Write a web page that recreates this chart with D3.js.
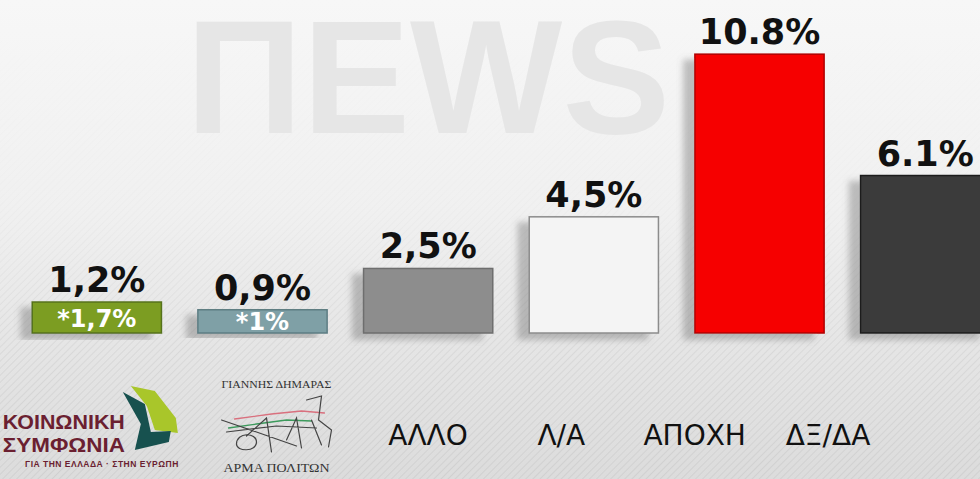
<!DOCTYPE html>
<html>
<head>
<meta charset="utf-8">
<script src="https://cdn.jsdelivr.net/npm/d3@7/dist/d3.min.js"></script>
<style>
  html, body { margin: 0; padding: 0; background: #eeeeee; overflow: hidden; }
  svg { display: block; }
</style>
</head>
<body>
<svg id="chart" width="980" height="479"></svg>
<script>
// ---- data ----
const categories = ["ΚΟΙΝΩΝΙΚΗ ΣΥΜΦΩΝΙΑ", "ΑΡΜΑ ΠΟΛΙΤΩΝ", "ΑΛΛΟ", "Λ/Α", "ΑΠΟΧΗ", "ΔΞ/ΔΑ"];
const values = [1.2, 0.9, 2.5, 4.5, 10.8, 6.1];
const valueLabels = ["1,2%", "0,9%", "2,5%", "4,5%", "10.8%", "6.1%"];
const innerLabels = ["*1,7%", "*1%", "", "", "", ""];
const textCategories = ["ΑΛΛΟ", "Λ/Α", "ΑΠΟΧΗ", "ΔΞ/ΔΑ"];
const barColors = ["#7b9d22", "#7fa0a6", "#8d8d8d", "#f4f4f4", "#f60000", "#3a3a3a"];
const barStrokes = ["#56721a", "#5d7d83", "#6e6e6e", "#8c8c8c", "#b00000", "#1e1e1e"];

const W = 980, H = 479;
const svg = d3.select("#chart");
const defs = svg.append("defs");

// background gradient
const bg = defs.append("linearGradient").attr("id", "bg").attr("x1", 0).attr("y1", 0).attr("x2", 0).attr("y2", 1);
bg.append("stop").attr("offset", "0%").attr("stop-color", "#f7f7f7");
bg.append("stop").attr("offset", "45%").attr("stop-color", "#f0f0f0");
bg.append("stop").attr("offset", "70%").attr("stop-color", "#e6e6e6");
bg.append("stop").attr("offset", "100%").attr("stop-color", "#dcdcdc");

const pat = defs.append("pattern").attr("id", "stripes").attr("width", 5).attr("height", 5)
  .attr("patternUnits", "userSpaceOnUse").attr("patternTransform", "rotate(45)");
pat.append("line").attr("x1", 0).attr("y1", 0).attr("x2", 0).attr("y2", 5)
  .attr("stroke", "#000").attr("stroke-opacity", 0.05).attr("stroke-width", 2);

const mg = defs.append("linearGradient").attr("id", "maskGrad").attr("x1", 0).attr("y1", 0).attr("x2", 0).attr("y2", 1);
mg.append("stop").attr("offset", "0%").attr("stop-color", "#000");
mg.append("stop").attr("offset", "40%").attr("stop-color", "#333");
mg.append("stop").attr("offset", "75%").attr("stop-color", "#fff");
mg.append("stop").attr("offset", "100%").attr("stop-color", "#fff");
const mask = defs.append("mask").attr("id", "stripeMask");
mask.append("rect").attr("width", W).attr("height", H).attr("fill", "url(#maskGrad)");

const shadow = defs.append("filter").attr("id", "shadow").attr("x", "-30%").attr("y", "-10%").attr("width", "160%").attr("height", "130%");
shadow.append("feDropShadow").attr("dx", -11).attr("dy", 6).attr("stdDeviation", 3)
  .attr("flood-color", "#6a6a6a").attr("flood-opacity", 0.4);

svg.append("rect").attr("width", W).attr("height", H).attr("fill", "url(#bg)");
svg.append("rect").attr("width", W).attr("height", H).attr("fill", "url(#stripes)").attr("mask", "url(#stripeMask)");

// watermark
svg.append("text")
  .attr("x", 186).attr("y", 133)
  .attr("font-family", "Liberation Sans, sans-serif")
  .attr("font-weight", "bold")
  .attr("font-size", 161)
  .attr("textLength", 484).attr("lengthAdjust", "spacingAndGlyphs")
  .attr("fill", "#e6e6e6")
  .text("ΠΕWS");

// ---- scales ----
const x = d3.scaleBand().domain(categories).range([14, 1008]).paddingInner(0.22).paddingOuter(0.11);
const y = d3.scaleLinear().domain([0, 11]).range([333, 49]);
const labelX = d3.scalePoint().domain(textCategories).range([428, 828]);

const data = categories.map((c, i) => ({
  cat: c, v: values[i], lab: valueLabels[i], inner: innerLabels[i],
  fill: barColors[i], stroke: barStrokes[i]
}));

// bars
svg.append("g").selectAll("rect").data(data).join("rect")
  .attr("x", d => x(d.cat))
  .attr("y", d => y(d.v))
  .attr("width", x.bandwidth())
  .attr("height", d => y(0) - y(d.v))
  .attr("fill", d => d.fill)
  .attr("stroke", d => d.stroke)
  .attr("stroke-width", 1.5)
  .attr("filter", "url(#shadow)");

// value labels
svg.append("g").selectAll("text").data(data).join("text")
  .attr("x", d => x(d.cat) + x.bandwidth() / 2)
  .attr("y", d => y(d.v) - 10)
  .attr("text-anchor", "middle")
  .attr("font-family", "DejaVu Sans, sans-serif")
  .attr("font-weight", "bold")
  .attr("font-size", 35)
  .attr("fill", "#111")
  .text(d => d.lab);

// inner labels (for the small bars)
const inner = svg.append("g").selectAll("text").data(data.filter(d => d.inner)).join("text")
  .attr("x", d => x(d.cat) + x.bandwidth() / 2)
  .attr("y", d => (y(d.v) + y(0)) / 2 + 9)
  .attr("text-anchor", "middle")
  .attr("font-family", "DejaVu Sans, sans-serif")
  .attr("font-weight", "bold")
  .attr("font-size", 24)
  .attr("fill", "#fff");
inner.append("tspan").text("*");
inner.append("tspan").text(d => d.inner.slice(1));

// text category labels
svg.append("g").selectAll("text").data(textCategories).join("text")
  .attr("x", d => labelX(d))
  .attr("y", 445)
  .attr("text-anchor", "middle")
  .attr("font-family", "DejaVu Sans, sans-serif")
  .attr("font-size", 28)
  .attr("fill", "#111")
  .text(d => d);

// logo 1: ΚΟΙΝΩΝΙΚΗ ΣΥΜΦΩΝΙΑ
const c0 = x(categories[0]) + x.bandwidth() / 2 - 14;
const g0 = svg.append("g").attr("transform", `translate(${c0},0)`);
g0.append("text").attr("x", 42).attr("y", 429).attr("text-anchor", "end")
  .attr("font-family", "Liberation Sans, sans-serif").attr("font-weight", "bold")
  .attr("font-size", 21).attr("textLength", 122).attr("lengthAdjust", "spacingAndGlyphs")
  .attr("fill", "#6b1f31").text("ΚΟΙΝΩΝΙΚΗ");
g0.append("text").attr("x", 42).attr("y", 452).attr("text-anchor", "end")
  .attr("font-family", "Liberation Sans, sans-serif").attr("font-weight", "bold")
  .attr("font-size", 21).attr("textLength", 122).attr("lengthAdjust", "spacingAndGlyphs")
  .attr("fill", "#6b1f31").text("ΣΥΜΦΩΝΙΑ");
g0.append("text").attr("x", 96).attr("y", 467).attr("text-anchor", "end")
  .attr("font-family", "Liberation Sans, sans-serif").attr("font-weight", "bold")
  .attr("font-size", 8.5).attr("letter-spacing", 0.5).attr("fill", "#6b1f31")
  .text("ΓΙΑ ΤΗΝ ΕΛΛΑΔΑ · ΣΤΗΝ ΕΥΡΩΠΗ");
g0.append("path").attr("fill", "#a9c62a")
  .attr("d", "M48,386 L72,391 L93,418 L95,433 L72,430 L64,406 Z");
g0.append("path").attr("fill", "#17514f")
  .attr("d", "M40,392 L62,404 L68,432 L88,431 L86,442 L52,450 L58,424 Z");

// logo 2: ΑΡΜΑ ΠΟΛΙΤΩΝ
const c1 = x(categories[1]) + x.bandwidth() / 2 + 14;
const g1 = svg.append("g").attr("transform", `translate(${c1},0)`);
g1.append("text").attr("x", 0).attr("y", 388).attr("text-anchor", "middle")
  .attr("font-family", "Liberation Serif, serif").attr("font-size", 11)
  .attr("textLength", 110).attr("lengthAdjust", "spacingAndGlyphs")
  .attr("fill", "#333").text("ΓΙΑΝΝΗΣ ΔΗΜΑΡΑΣ");
g1.append("text").attr("x", 0).attr("y", 472).attr("text-anchor", "middle")
  .attr("font-family", "Liberation Serif, serif").attr("font-size", 13)
  .attr("textLength", 106).attr("lengthAdjust", "spacingAndGlyphs")
  .attr("fill", "#333").text("ΑΡΜΑ ΠΟΛΙΤΩΝ");
const scrib = g1.append("g").attr("fill", "none").attr("stroke-linecap", "round");
scrib.append("path").attr("stroke", "#d9707e").attr("stroke-width", 1.3)
  .attr("d", "M-42,419 L-5,414 L25,411 L48,413");
scrib.append("path").attr("stroke", "#3c9a5c").attr("stroke-width", 1.3)
  .attr("d", "M-48,428 L-20,424 L10,420 L35,421");
scrib.append("path").attr("stroke", "#444").attr("stroke-width", 1.2)
  .attr("d", "M-55,420 L-20,432 L20,446 M-50,432 L0,426 L40,428 M-40,444 C-40,432 -20,432 -20,442 C-20,452 -40,452 -40,444 M-30,436 L-10,418 L-5,452 M10,440 L20,418 L25,448 M30,400 L45,396 L42,420 L55,430 L52,447 M35,420 L45,445");
</script>
</body>
</html>
